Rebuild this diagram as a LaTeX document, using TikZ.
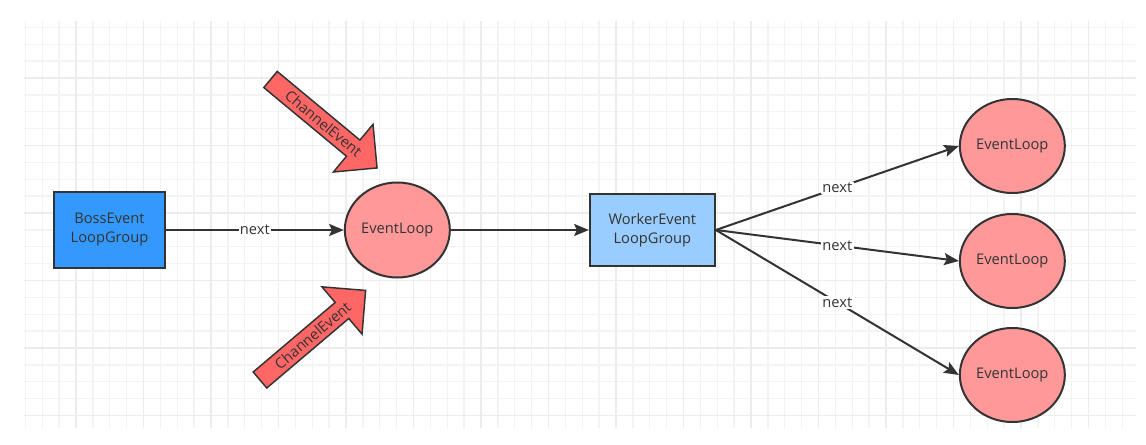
\documentclass[tikz,border=0pt]{standalone}
\usepackage{fontspec}
\setmainfont{Open Sans}
\usepackage{tikz}
\usetikzlibrary{positioning, shapes.geometric, arrows.meta}
\definecolor{ink}{HTML}{333333}
\definecolor{bossblue}{HTML}{3399FF}
\definecolor{workerblue}{HTML}{99CCFF}
\definecolor{looppink}{HTML}{FF9999}
\definecolor{eventred}{HTML}{FF6666}
\definecolor{gridminor}{HTML}{F3F3F3}
\definecolor{gridmajor}{HTML}{ECECEC}

\begin{document}
\begin{tikzpicture}[x=0.75pt, y=-0.75pt,
  every node/.style={font=\fontsize{11}{14.25}\selectfont, text=ink},
  groupbox/.style={draw=ink, line width=1.5pt, rectangle, align=center, inner sep=0pt},
  loopnode/.style={draw=ink, line width=1.5pt, ellipse, fill=looppink, minimum width=78.75pt, minimum height=70.5pt, inner sep=0pt},
  link/.style={draw=ink, line width=1.5pt, -{Stealth[length=11pt, width=9pt, inset=2pt]}},
  nextlabel/.style={fill=white, inner sep=1pt},
  eventarrow/.style={draw=ink, line width=1.1pt, fill=eventred},
  minorline/.style={draw=gridminor, line width=1pt},
  majorline/.style={draw=gridmajor, line width=1.1pt}]

  \fill[white] (0,0) rectangle (1146,445);
  \useasboundingbox (0,0) rectangle (1146,445);
  % grid
  \foreach \k in {0,...,65} \draw[minorline] ({25.375+16.875*\k},21) -- ({25.375+16.875*\k},428);
  \foreach \k in {0,...,23} \draw[minorline] (24,{27.375+16.875*\k}) -- (1136,{27.375+16.875*\k});
  \foreach \k in {0,...,15} \draw[majorline] ({76+67.5*\k},21) -- ({76+67.5*\k},428);
  \foreach \k in {0,...,5} \draw[majorline] (24,{78+67.5*\k}) -- (1136,{78+67.5*\k});

  \node[groupbox, fill=bossblue, minimum width=83pt, minimum height=57pt] (boss) at (109.5,230) {BossEvent\\LoopGroup};
  \node[loopnode, minimum height=71.25pt, right=133.5pt of boss] (loop) {EventLoop};
  \node[groupbox, fill=workerblue, minimum width=93.75pt, minimum height=54pt, right=103.5pt of loop] (worker) {WorkerEvent\\LoopGroup};
  \node[loopnode, right=182.25pt of worker, yshift=-23.25pt] (w2) {EventLoop};
  \node[loopnode, above=14.25pt of w2] (w1) {EventLoop};
  \node[loopnode, below=13.5pt of w2] (w3) {EventLoop};

  % channel events
  \begin{scope}[shift={(270.5,79.5)}, rotate=-39.7]
    \draw[eventarrow] (0,-10.5) -- (107.5,-10.5) -- (107.5,-31) -- (138.5,0) -- (107.5,31) -- (107.5,10.5) -- (0,10.5) -- cycle;
    \node[transform shape] (evtop) at (69,0) {ChannelEvent};
  \end{scope}
  \begin{scope}[shift={(260,380)}, rotate=40.3]
    \draw[eventarrow] (0,-10.5) -- (107.5,-10.5) -- (107.5,-31) -- (138.5,0) -- (107.5,31) -- (107.5,10.5) -- (0,10.5) -- cycle;
    \node[transform shape] (evbottom) at (69,0) {ChannelEvent};
  \end{scope}

  \draw[link] (boss) -- node[nextlabel] {next} (loop);
  \draw[link] (loop) -- (worker);
  \draw[link] (worker.east) -- node[nextlabel] {next} (w1.west);
  \draw[link] (worker.east) -- node[nextlabel] {next} (w2.west);
  \draw[link] (worker.east) -- node[nextlabel] {next} (w3.west);
\end{tikzpicture}
\end{document}
